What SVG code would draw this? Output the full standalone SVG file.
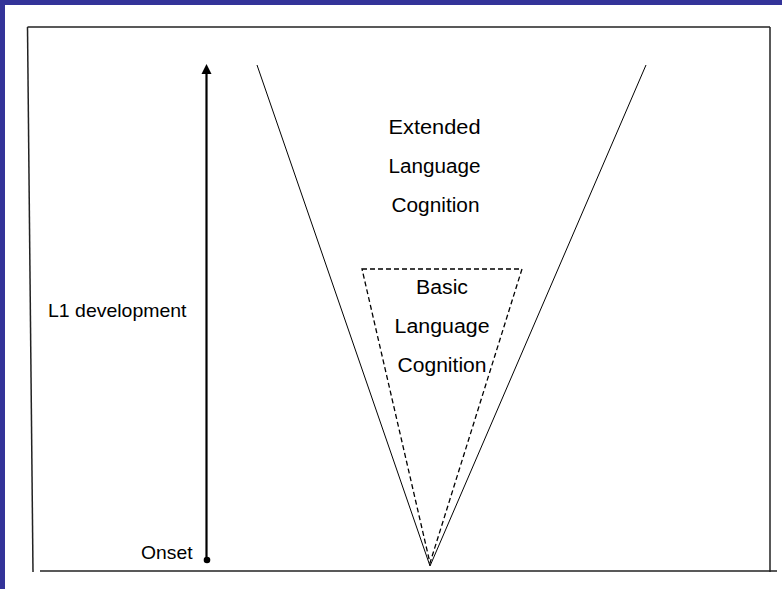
<svg xmlns="http://www.w3.org/2000/svg" width="782" height="589" viewBox="0 0 782 589">
  <style>
    .frame { stroke: #222; stroke-width: 1.5; fill: none; }
    .v { stroke: #000; stroke-width: 1; fill: none; }
    .dash { stroke: #000; stroke-width: 1.3; fill: none; stroke-dasharray: 5 3; }
    .lbl { font-family: "Liberation Sans", Arial, sans-serif; font-size: 19px; fill: #000; }
    .c { text-anchor: middle; font-size: 20px; }
  </style>
  <rect x="0" y="0" width="782" height="589" fill="#fff"/>
  <rect x="0" y="0" width="782" height="5" fill="#333399"/>
  <rect x="0" y="0" width="5" height="589" fill="#333399"/>

  <g id="frame">
    <line class="frame" x1="27.5" y1="27" x2="770" y2="27"/>
    <line class="frame" x1="27.5" y1="27" x2="33" y2="572"/>
    <line class="frame" x1="770" y1="27" x2="770" y2="572"/>
    <line class="frame" x1="40" y1="571" x2="777" y2="571"/>
  </g>

  <g id="connectors">
    <line x1="206.5" y1="560" x2="206.5" y2="69" stroke="#000" stroke-width="2.2"/>
    <path d="M201.5,74 L206.5,64 L211.5,74 Z" fill="#000"/>
    <circle cx="207" cy="560" r="3.3" fill="#000"/>
  </g>

  <g id="extended">
    <polyline class="v" points="257,65 430,566 646,65"/>
    <text class="lbl c" x="434.5" y="134" textLength="92" lengthAdjust="spacingAndGlyphs">Extended</text>
    <text class="lbl c" x="434.5" y="173" textLength="92" lengthAdjust="spacingAndGlyphs">Language</text>
    <text class="lbl c" x="435.5" y="212" textLength="88" lengthAdjust="spacingAndGlyphs">Cognition</text>
  </g>

  <g id="basic">
    <polygon class="dash" points="362,269 522,269 430,563"/>
    <text class="lbl c" x="442" y="294" textLength="52" lengthAdjust="spacingAndGlyphs">Basic</text>
    <text class="lbl c" x="442" y="333" textLength="95" lengthAdjust="spacingAndGlyphs">Language</text>
    <text class="lbl c" x="442" y="372" textLength="89" lengthAdjust="spacingAndGlyphs">Cognition</text>
  </g>

  <g id="l1">
    <text class="lbl" x="48" y="316.5" textLength="138.5" lengthAdjust="spacingAndGlyphs">L1 development</text>
  </g>
  <g id="onset">
    <text class="lbl" x="141" y="559" textLength="51.5" lengthAdjust="spacingAndGlyphs">Onset</text>
  </g>
</svg>
